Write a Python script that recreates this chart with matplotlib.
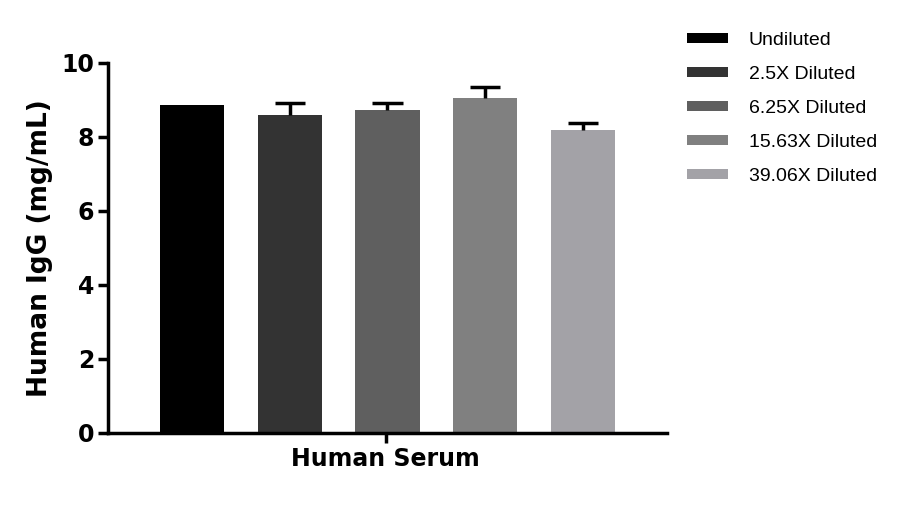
import matplotlib.pyplot as plt
import numpy as np

groups = ['Undiluted', '2.5X Diluted', '6.25X Diluted', '15.63X Diluted', '39.06X Diluted']
means = [8.87, 8.60, 8.73, 9.06, 8.19]
errs = [0.0, 0.31, 0.18, 0.28, 0.18]
colors = ['#000000', '#333333', '#5f5f5f', '#808080', '#a3a2a7']
xlabel = 'Human Serum'
ylabel = 'Human IgG (mg/mL)'

fig = plt.figure(figsize=(9.06, 5.07), dpi=100)
ax = fig.add_axes([0.1192, 0.146, 0.6170, 0.730])

x = np.arange(len(groups))
for i in range(len(groups)):
    ax.bar(x[i], means[i], width=0.66, color=colors[i], label=groups[i], zorder=2)
    if errs[i] > 0:
        # only the upper half of the error bar is drawn
        top = means[i] + errs[i]
        ax.vlines(x[i], means[i], top, color='black', linewidth=2.5, zorder=3)
        ax.hlines(top, x[i] - 0.155, x[i] + 0.155, color='black', linewidth=2.5, zorder=3)

ax.set_xlim(-0.86, 4.86)
ax.set_ylim(0, 10)
ax.set_yticks([0, 2, 4, 6, 8, 10])
ax.set_xticks([1.98])
ax.set_xticklabels([xlabel])

for s in ['top', 'right']:
    ax.spines[s].set_visible(False)
for s in ['left', 'bottom']:
    ax.spines[s].set_linewidth(2.5)

ax.tick_params(axis='both', width=2.5, length=7, labelsize=17, pad=3)
for lab in ax.get_yticklabels() + ax.get_xticklabels():
    lab.set_fontweight('bold')
ax.set_ylabel(ylabel, fontsize=19, fontweight='bold', labelpad=6)

leg = ax.legend(loc='upper left', bbox_to_anchor=(1.004, 1.13), frameon=False,
                prop={'family': 'Liberation Sans', 'size': 14},
                handlelength=2.1, handleheight=0.4, labelspacing=0.87, handletextpad=1.1)

plt.savefig('out.png', dpi=100)
